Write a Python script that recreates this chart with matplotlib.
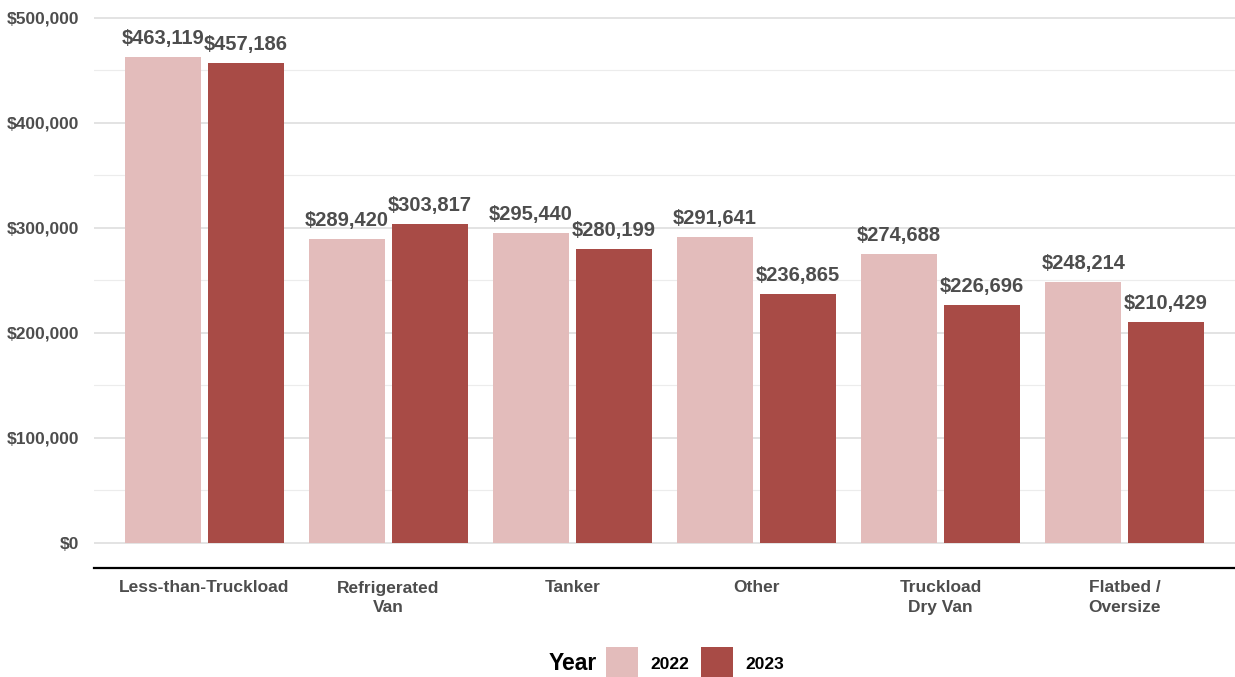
"""
Average revenue by trailer segment, 2022 vs 2023.
"""

import numpy as np
import matplotlib
matplotlib.use("Agg")
import matplotlib.pyplot as plt
from matplotlib.patches import Patch
from matplotlib.ticker import MultipleLocator, FuncFormatter

plt.rcParams["font.family"] = ["Liberation Sans", "DejaVu Sans"]

# data
categories = ["Less-than-Truckload", "Refrigerated\nVan", "Tanker", "Other",
              "Truckload\nDry Van", "Flatbed /\nOversize"]
values_2022 = [463119, 289420, 295440, 291641, 274688, 248214]
values_2023 = [457186, 303817, 280199, 236865, 226696, 210429]
years = ["2022", "2023"]

COLORS = ["#e3bcbb", "#a84b46"]
TEXT_GREY = "#4d4d4d"

W, H = 1235, 677
fig = plt.figure(figsize=(W / 100, H / 100), dpi=100)

# panel in pixel coords
left, right, top, bottom = 94, 1235, 0, 568
ax = fig.add_axes([left / W, 1 - bottom / H, (right - left) / W, (bottom - top) / H])

x = np.arange(len(categories))
bar_w = 0.41
offset = 0.225

for vals, off, col in [(values_2022, -offset, COLORS[0]), (values_2023, offset, COLORS[1])]:
    bars = ax.bar(x + off, vals, width=bar_w, color=col, zorder=3)
    for b, v in zip(bars, vals):
        ax.annotate(f"${v:,.0f}", (b.get_x() + b.get_width() / 2, v),
                    xytext=(0, 9), textcoords="offset pixels",
                    ha="center", va="bottom", fontsize=14.5, fontweight="bold",
                    color=TEXT_GREY, zorder=4)

ax.set_xlim(-0.6, len(categories) - 0.4)
ax.set_ylim(-24000, 517000)

ax.yaxis.set_major_locator(MultipleLocator(100000))
ax.yaxis.set_minor_locator(MultipleLocator(50000))
ax.yaxis.set_major_formatter(FuncFormatter(lambda v, p: f"${v:,.0f}"))
ax.grid(axis="y", which="major", color="#e3e3e3", linewidth=1.4, zorder=0)
ax.grid(axis="y", which="minor", color="#ececec", linewidth=0.8, zorder=0)

ax.set_xticks(x)
ax.set_xticklabels(categories, fontsize=12.5, fontweight="bold", color=TEXT_GREY,
                   linespacing=1.35)
for lbl in ax.get_yticklabels():
    lbl.set_fontsize(12.5)
    lbl.set_fontweight("bold")
    lbl.set_color(TEXT_GREY)

ax.tick_params(axis="both", which="both", length=0)
ax.tick_params(axis="x", pad=9)
ax.tick_params(axis="y", pad=10.5)

for side in ["top", "right", "left"]:
    ax.spines[side].set_visible(False)
ax.spines["bottom"].set_color("black")
ax.spines["bottom"].set_linewidth(1.6)

# legend with title on the left
fig.text(549 / W, 1 - 664 / H, "Year", fontsize=16.5, fontweight="bold",
         ha="left", va="center", color="black")
handles = [Patch(facecolor=c, edgecolor="none", label=y) for c, y in zip(COLORS, years)]
leg = fig.legend(handles=handles, loc="center left",
                 bbox_to_anchor=(606 / W, 1 - 664 / H), ncol=2, frameon=False,
                 prop={"size": 12.5, "weight": "bold"},
                 handlelength=1.85, handleheight=2.55, handletextpad=0.7,
                 columnspacing=0.7, borderpad=0, borderaxespad=0)

fig.savefig("out.png", dpi=100)
